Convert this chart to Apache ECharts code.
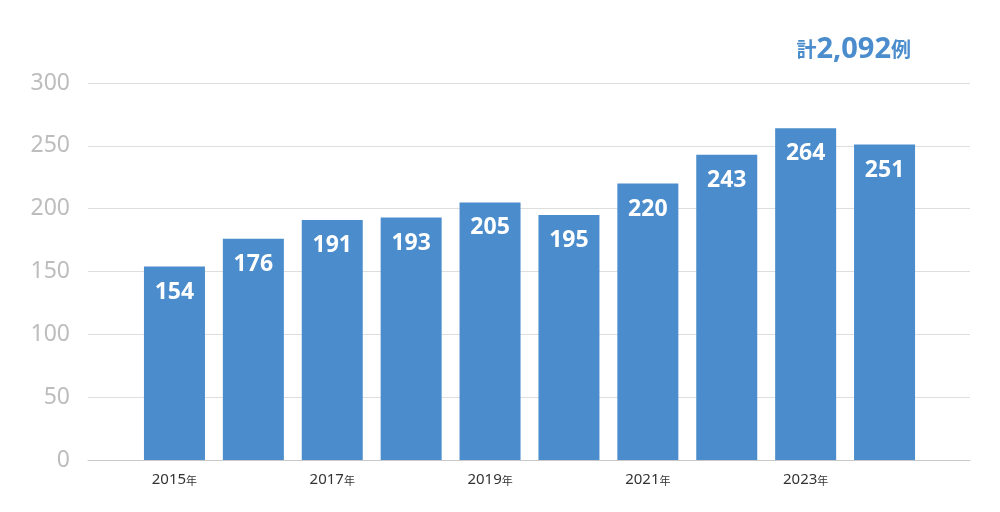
<!DOCTYPE html>
<html>
<head>
<meta charset="utf-8">
<script src="https://cdn.jsdelivr.net/npm/echarts@6/dist/echarts.min.js"></script>
<style>html,body{margin:0;padding:0;background:#fff}#chart{width:1000px;height:512px}</style>
</head>
<body>
<div id="chart"></div>
<script>
// data
const years = ['2015', '2016', '2017', '2018', '2019', '2020', '2021', '2022', '2023', '2024'];
const counts = [154, 176, 191, 193, 205, 195, 220, 243, 264, 251];
const totalText = '計2,092例';

var chart = echarts.init(document.getElementById('chart'));

var option = {
    animation: false,
    title: {
        text: '{a|計}{b|2,092}{a|例}',
        right: 84,
        top: 30,
        textStyle: {
            rich: {
                a: { fontSize: 20, color: '#4a8ccc', fontFamily: 'Noto Sans CJK JP' },
                b: { fontSize: 29, color: '#4a8ccc', fontFamily: 'Noto Sans' }
            }
        }
    },
    grid: [
        { left: 88, right: 30, top: 83, bottom: 52 },
        { left: 135, right: 76, top: 83, bottom: 52 }
    ],
    xAxis: [
        {
            gridIndex: 0, type: 'category', data: [''],
            axisLine: { lineStyle: { color: '#c8c8c8' } },
            axisTick: { show: false }, axisLabel: { show: false }
        },
        {
            gridIndex: 1, type: 'category', data: years,
            axisLine: { show: false }, axisTick: { show: false },
            axisLabel: {
                margin: 12,
                formatter: v => '{y|' + v + '}{n|年}',
                rich: {
                    y: { fontSize: 15, color: '#333', fontFamily: 'Noto Sans' },
                    n: { fontSize: 11, color: '#333', fontFamily: 'Noto Sans CJK JP', padding: [3, 0, 0, 0] }
                }
            }
        }
    ],
    yAxis: [
        {
            gridIndex: 0, type: 'value', min: 0, max: 300, interval: 50,
            axisLine: { show: false }, axisTick: { show: false },
            axisLabel: { color: '#bdbdbd', fontSize: 23, margin: 18, fontFamily: 'Noto Sans' },
            splitLine: { lineStyle: { color: '#dedede' } }
        },
        {
            gridIndex: 1, type: 'value', min: 0, max: 300, interval: 50, show: false,
            splitLine: { show: false }
        }
    ],
    series: [
        {
            type: 'bar',
            xAxisIndex: 1, yAxisIndex: 1,
            data: counts,
            barWidth: 61,
            itemStyle: { color: '#4a8ccc' },
            label: {
                show: true, position: 'insideTop', distance: 14,
                color: '#fff', fontSize: 23, fontWeight: 'bold', fontFamily: 'Noto Sans'
            }
        }
    ]
};

chart.setOption(option);
window.addEventListener('resize', chart.resize);
</script>
</body>
</html>
